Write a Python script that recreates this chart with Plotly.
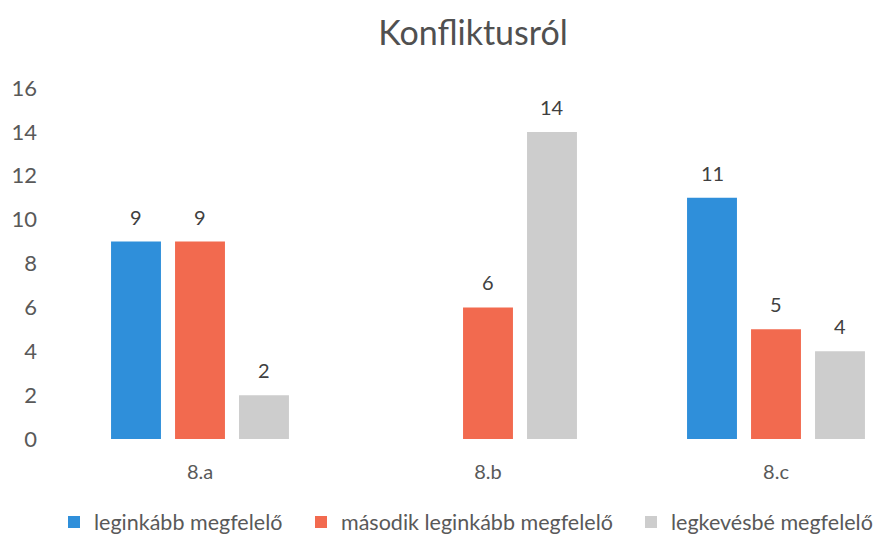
import plotly.graph_objects as go

categories = ["8.a", "8.b", "8.c"]
series_names = ["leginkább megfelelő", "második leginkább megfelelő", "legkevésbé megfelelő"]
leginkabb = [9, None, 11]
masodik = [9, 6, 5]
legkevesbe = [2, 14, 4]
colors = ["#2F8FDA", "#F26A4F", "#CDCDCD"]
y_ticks = [0, 2, 4, 6, 8, 10, 12, 14, 16]

FONT = "Lato"
OFF = 8  # page body margin
W, H = 882 - OFF, 535 - OFF
L = 40 - OFF
T = 88 - OFF
B = 535 - 439
cat_px = 288.0
first_center_px = 200.0 - OFF
x0 = (L - first_center_px) / cat_px
x1 = (W - first_center_px) / cat_px

# legend text start positions (page px) for each series
legend_text_px = [91, 338, 668]
legend_ids = ["legend", "legend2", "legend3"]

fig = go.Figure()
all_series = [leginkabb, masodik, legkevesbe]
for name, vals, col, lid in zip(series_names, all_series, colors, legend_ids):
    fig.add_trace(go.Bar(x=categories, y=vals, name=name, legend=lid,
                         marker=dict(color=col, line=dict(width=0))))

bargap = 1/3
slot = (1 - bargap) / 3
annotations = []
for si, vals in enumerate(all_series):
    off = (si - 1) * slot
    for ci, v in enumerate(vals):
        if v is None:
            continue
        annotations.append(dict(x=ci + off, y=v, xref="x", yref="y", text=str(v), showarrow=False,
                                yanchor="middle", yshift=25,
                                font=dict(family=FONT, size=20, color="#404040")))

legend_common = dict(orientation="h", xref="container", yref="container", xanchor="left",
                     y=1 - (522 - OFF)/H, yanchor="middle",
                     font=dict(family=FONT, size=21.5, color="#595959"),
                     itemwidth=30, bgcolor="rgba(0,0,0,0)", borderwidth=0)
legends = {}
for lid, tx in zip(legend_ids, legend_text_px):
    legends[lid] = dict(legend_common, x=(tx - OFF - 40 + 3)/W)

fig.update_layout(
    width=W, height=H,
    margin=dict(l=L, r=0, t=T, b=B),
    paper_bgcolor="white", plot_bgcolor="white",
    barmode="group", bargap=bargap, bargroupgap=0.22,
    title=dict(text="Konfliktusról", x=(473 - OFF)/W, xanchor="center", y=1 - (33 - OFF)/H, yanchor="middle",
               font=dict(family=FONT, size=34, color="#505050")),
    xaxis=dict(range=[x0, x1], showgrid=False, zeroline=False, showline=False, ticks="",
               tickfont=dict(family=FONT, size=20, color="#595959"), ticklabelstandoff=19),
    yaxis=dict(range=[0, 16], tickvals=y_ticks, showgrid=False, zeroline=False, showline=False,
               ticks="", tickfont=dict(family=FONT, size=22, color="#595959"), ticklabelstandoff=2),
    annotations=annotations,
    showlegend=True,
    **legends,
)

fig.write_html("out.html")
